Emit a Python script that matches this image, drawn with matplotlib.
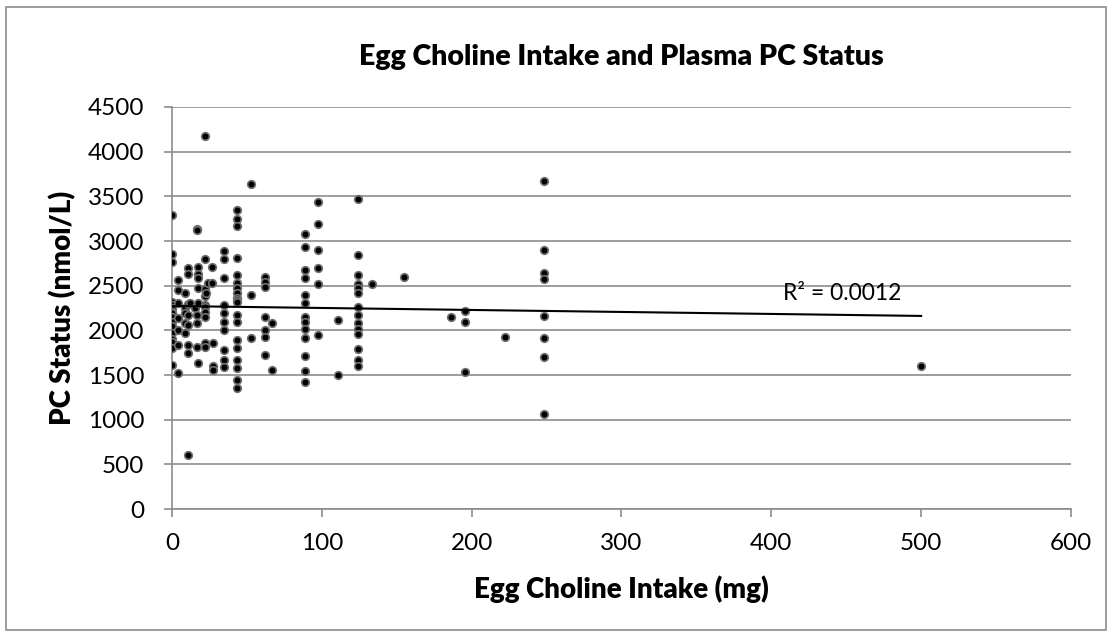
import numpy as np
import matplotlib
matplotlib.use("Agg")
import matplotlib.pyplot as plt
from matplotlib.patches import Rectangle

# egg choline intake (mg) -> plasma PC status (nmol/L), grouped by intake level
groups = {
    0.0: [3290, 2850, 2760, 2320, 2283, 2250, 2208, 2190, 2152, 2096, 2050, 1966, 1900, 1872, 1798, 1611],
    4.2: [2562, 2450, 2302, 2134, 2000, 1835, 1518],
    8.7: [2414, 2246, 2190, 2078, 1966],
    10.9: [2693, 2630, 2300, 2171, 2059, 1835, 1742, 600],
    12.0: [2302],
    15.3: [2246],
    16.4: [3130, 3120, 2171, 2078, 1816],
    17.5: [2711, 2630, 2581, 2470, 2302, 1630],
    22.0: [4170, 2797, 2462, 2387, 2283, 2264, 2208, 2152, 1854, 1816],
    23.0: [2414],
    24.0: [2525],
    26.4: [2711, 2532],
    27.5: [1854, 1600, 1555],
    35.0: [2887, 2797, 2581, 2283, 2190, 2096, 2003, 1779, 1667, 1592],
    43.7: [3346, 3245, 3167, 2805, 2618, 2532, 2470, 2414, 2358, 2339, 2320, 2171, 2096,
           1891, 1798, 1667, 1574, 1443, 1350],
    53.0: [3633, 2395, 1910],
    62.0: [2600, 2544, 2488, 2152, 2003, 1928, 1723],
    66.8: [2078, 1555],
    88.5: [3077, 2935, 2674, 2581, 2395, 2302, 2152, 2096, 2011, 1917, 1716, 1548, 1424],
    97.4: [3439, 3186, 2898, 2693, 2518, 1947],
    110.7: [2115, 1499],
    124.0: [3469, 2842, 2618, 2518, 2470, 2414, 2264, 2171, 2078, 2011, 1958, 1787, 1667, 1600],
    133.4: [2518],
    155.0: [2600],
    186.0: [2152],
    195.7: [2219, 2089, 1536],
    222.0: [1928],
    248.0: [3670, 2898, 2637, 2570, 2160, 1910, 1704, 1063],
    500.0: [1600],
}

egg_choline = np.array([x for x, ys in groups.items() for _ in ys])
pc_status = np.array([y for ys in groups.values() for y in ys])

x_ticks = [0, 100, 200, 300, 400, 500, 600]
y_ticks = [0, 500, 1000, 1500, 2000, 2500, 3000, 3500, 4000, 4500]

plt.rcParams['font.family'] = ['Lato', 'DejaVu Sans']

fig = plt.figure(figsize=(11.12, 6.35), dpi=100)
ax = fig.add_axes([0.1547, 0.1984, 0.8084, 0.6331])

# outer chart border
fig.patches.append(Rectangle((0.005, 0.008), 0.99, 0.981, transform=fig.transFigure,
                             fill=False, edgecolor='#8c8c8c', linewidth=1.2))

ax.scatter(egg_choline, pc_status, s=30, c='black', edgecolors='#707070',
           linewidths=1.2, zorder=3)

# linear trendline over data range
slope, intercept = np.polyfit(egg_choline, pc_status, 1)
xs = np.array([egg_choline.min(), egg_choline.max()])
ax.plot(xs, slope * xs + intercept, color='black', linewidth=1.5, zorder=4)
ax.text(408, 2410, 'R² = 0.0012', fontsize=16.5, va='center', ha='left')

ax.set_xlim(0, 600)
ax.set_ylim(0, 4500)
ax.set_xticks(x_ticks)
ax.set_yticks(y_ticks)
ax.tick_params(axis='both', labelsize=17.5, colors='#8c8c8c', labelcolor='black',
               length=6, width=1.2)
ax.tick_params(axis='x', pad=11)
ax.tick_params(axis='y', pad=14)
ax.grid(axis='y', color='#8c8c8c', linewidth=1.2)
ax.set_axisbelow(True)
for side in ['top', 'right']:
    ax.spines[side].set_visible(False)
for side in ['left', 'bottom']:
    ax.spines[side].set_color('#8c8c8c')
    ax.spines[side].set_linewidth(1.2)

ax.set_title('Egg Choline Intake and Plasma PC Status', fontsize=20.5, fontweight='heavy', pad=30)
ax.set_xlabel('Egg Choline Intake (mg)', fontsize=20, fontweight='heavy', labelpad=16)
ax.set_ylabel('PC Status (nmol/L)', fontsize=20, fontweight='heavy', labelpad=8)

fig.savefig('out.png', dpi=100)
